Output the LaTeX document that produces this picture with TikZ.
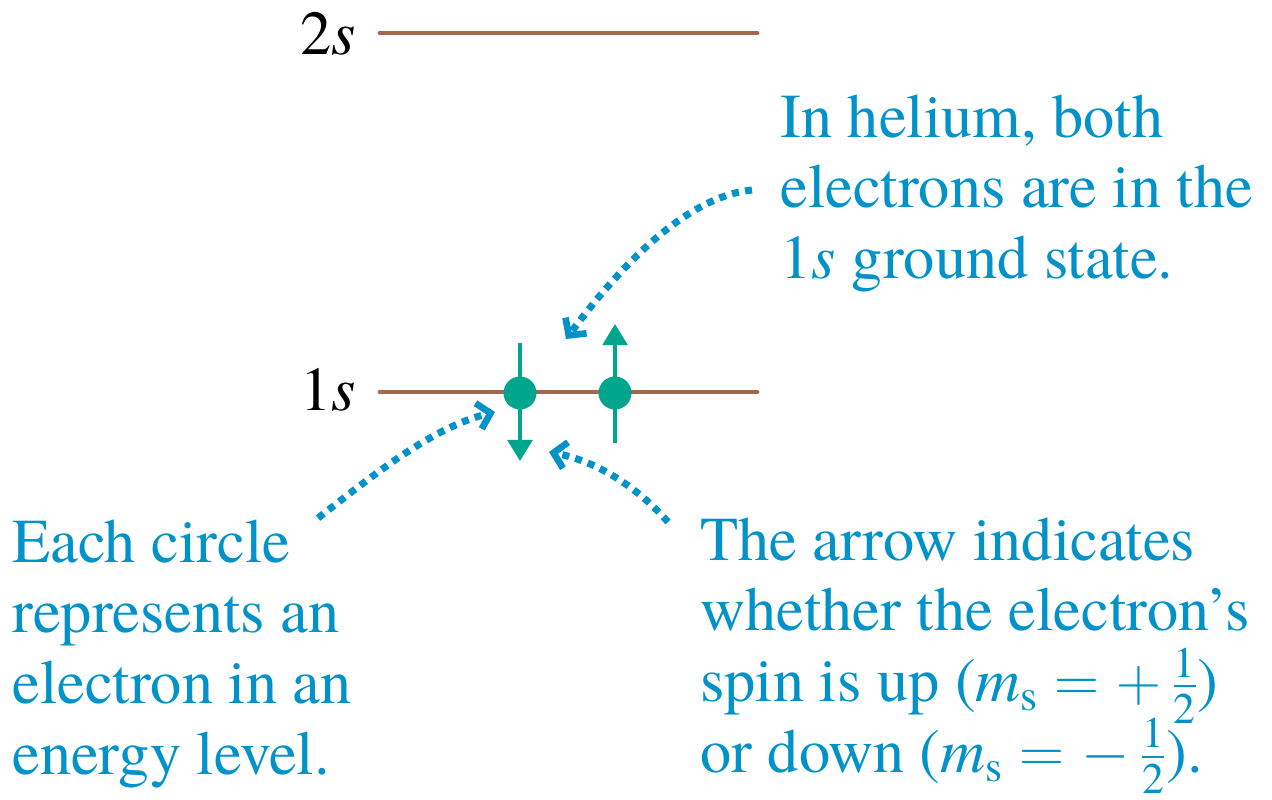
\documentclass[tikz,border=0pt]{standalone}
\usepackage{fix-cm}
\usepackage{amsmath}
\usepackage{fontspec}
\setmainfont{TeX Gyre Termes}
\usetikzlibrary{arrows.meta}
\definecolor{notecol}{RGB}{0,146,201}
\definecolor{elcol}{RGB}{0,165,142}
\definecolor{levcol}{RGB}{166,101,76}
\begin{document}
\begin{tikzpicture}[x=0.02cm,y=-0.02cm,line join=round,every node/.style={inner sep=0pt},
  txt/.style={font=\rmfamily\fontsize{35.5}{40.3}\selectfont},
  note/.style={txt,text=notecol,anchor=base west},
  lvl/.style={levcol,line width=2.8pt,line cap=round},
  elec/.style={circle,fill=elcol,minimum size=0.66cm},
  spin/.style={elcol,line width=2.3pt,-{Triangle[length=12pt,width=14pt]}},
  hint/.style={notecol,line width=4pt,dash pattern=on 4pt off 3.6pt,-{Straight Barb[length=7pt,width=15pt,line width=3.8pt]}}]
  \useasboundingbox (0,0) rectangle (1272,799);
  \def\xl{380}
  \def\xr{757}
  \coordinate (a2) at (\xl,33);
  \coordinate (b2) at (\xr,33);
  \coordinate (a1) at (\xl,392);
  \coordinate (b1) at (\xr,392);
  \draw[lvl] (a2) -- (b2);
  \draw[lvl] (a1) -- (b1);
  \node[txt,anchor=base east] (l2) at (356,54) {2\textit{s}};
  \node[txt,anchor=base east] (l1) at (356,410) {1\textit{s}};
  \coordinate (dtop) at (520,343);
  \coordinate (dbot) at (520,461);
  \coordinate (ubot) at (615,443);
  \coordinate (utop) at (615,324);
  \draw[spin] (dtop) -- (dbot);
  \draw[spin] (ubot) -- (utop);
  \node[elec] (e1) at (520,393) {};
  \node[elec] (e2) at (615,393) {};
  \node[note] (he) at (780,137) {\begin{tabular}[t]{@{}l@{}}In helium, both\\electrons are in the\\1\textit{s} ground state.\end{tabular}};
  \node[note] (circ) at (12,562) {\begin{tabular}[t]{@{}l@{}}Each circle\\represents an\\electron in an\\energy level.\end{tabular}};
  \node[note] (arr) at (700,560) {\begin{tabular}[t]{@{}l@{}}The arrow indicates\\whether the electron’s\\spin is up (\textit{m}\textsubscript{s}~$=+\,\smash{\frac{\text{1}}{\text{2}}}$)\\or down (\textit{m}\textsubscript{s}~$=-\,\smash{\frac{\text{1}}{\text{2}}}$).\end{tabular}};
  \coordinate (s1) at (752,190);
  \coordinate (t1) at (566,339);
  \coordinate (s2) at (318,518);
  \coordinate (t2) at (495,412);
  \coordinate (s3) at (668,522);
  \coordinate (t3) at (549,452);
  \draw[hint] (s1) .. controls (680,197) and (610,280) .. (t1);
  \draw[hint] (s2) .. controls (370,478) and (430,428) .. (t2);
  \draw[hint] (s3) .. controls (640,490) and (600,462) .. (t3);
\end{tikzpicture}
\end{document}
